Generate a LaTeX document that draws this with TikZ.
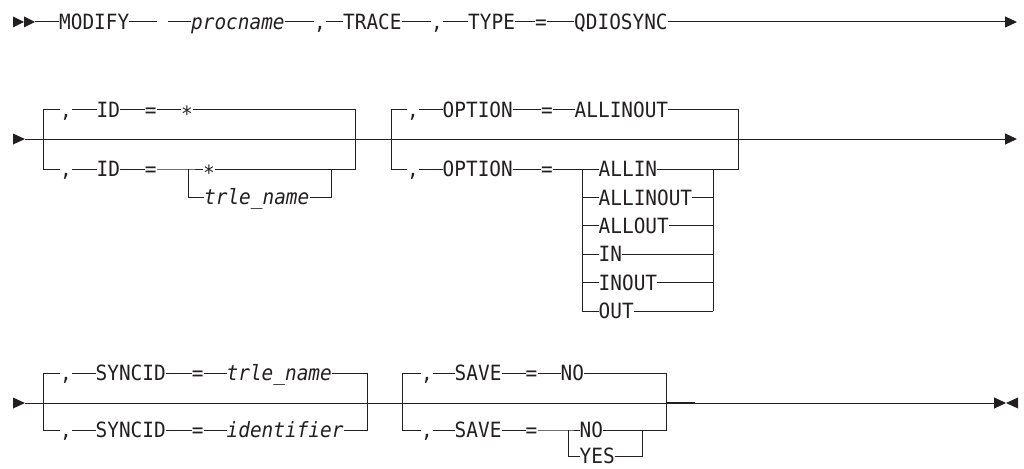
\documentclass[tikz,border=0pt]{standalone}
\usepackage{fontspec}
\usetikzlibrary{arrows.meta}
\newfontfamily\monofam[FakeStretch=0.924]{DejaVu Sans Mono}
\definecolor{ink}{RGB}{35,31,32}
\begin{document}
\begin{tikzpicture}[x=1pt,y=-1pt,
  lbl/.style={inner sep=0pt, anchor=west, text height=15.2pt, text depth=0pt,
    font=\monofam\fontsize{21pt}{22pt}\selectfont, text=ink},
  var/.style={lbl, font=\monofam\itshape\fontsize{21pt}{22pt}\selectfont},
  rail/.style={draw=ink, line width=1pt},
  endtip/.style={-{Triangle[length=12pt,width=11pt]}},
  heavy/.style={draw=ink, line width=2.2pt}]
\useasboundingbox (0,0) rectangle (1024,468);

% ---------------- Row 1 ----------------
\fill[ink] (13,16.5) -- (24,22) -- (13,27.5) -- cycle;
\fill[ink] (24,16.5) -- (35,22) -- (24,27.5) -- cycle;
\coordinate (r1s) at (35,22);
\coordinate (r1a) at (157,22);
\coordinate (r1b) at (168,22);
\coordinate (r1e) at (1017,22);
\node[lbl] (modify) at (59,22) {MODIFY};
\node[var] (procname) at (191,22) {procname};
\node[lbl] (c1) at (314,22) {,};
\node[lbl] (trace) at (343,22) {TRACE};
\node[lbl] (c2) at (431,22) {,};
\node[lbl] (type) at (468,22) {TYPE};
\node[lbl] (eq1) at (535,22) {=};
\node[lbl] (qdio) at (574,22) {QDIOSYNC};
\draw[rail] (r1s) -- (modify.west);
\draw[rail] (modify.east) -- (r1a);
\draw[rail] (r1b) -- (procname.west);
\draw[rail] (procname.east) -- (c1.west);
\draw[rail] (c1.east) -- (trace.west);
\draw[rail] (trace.east) -- (c2.west);
\draw[rail] (c2.east) -- (type.west);
\draw[rail] (type.east) -- (eq1.west);
\draw[rail] (eq1.east) -- (qdio.west);
\draw[rail,endtip] (qdio.east) -- (r1e);

% ---------------- Row 2 ----------------
\fill[ink] (13,133.5) -- (25,139) -- (13,144.5) -- cycle;
\coordinate (r2s) at (25,139);
\coordinate (r2e) at (1017,139);
\draw[rail,endtip] (r2s) -- (r2e);

% group ID
\coordinate (g1tl) at (43,110);
\coordinate (g1bl) at (43,169);
\coordinate (g1tr) at (355,110);
\coordinate (g1br) at (355,169);
\coordinate (g1il) at (188,169);
\coordinate (g1ilb) at (188,197);
\coordinate (g1ir) at (331,169);
\coordinate (g1irb) at (331,197);
\node[lbl] (g1ca) at (60,110) {,};
\node[lbl] (g1ida) at (96.5,110) {ID};
\node[lbl] (g1eqa) at (144.7,110) {=};
\node[lbl] (g1sta) at (181,110) {\raisebox{-3.5pt}{*}};
\node[lbl] (g1cb) at (60,169) {,};
\node[lbl] (g1idb) at (96.5,169) {ID};
\node[lbl] (g1eqb) at (144.7,169) {=};
\node[lbl] (g1stb) at (203,169) {\raisebox{-3.5pt}{*}};
\node[var] (g1tn) at (204,197) {trle\_name};
\draw[rail] (g1ca.west) -- (g1tl) -- (g1bl) -- (g1cb.west);
\draw[rail] (g1ca.east) -- (g1ida.west);
\draw[rail] (g1ida.east) -- (g1eqa.west);
\draw[rail] (g1eqa.east) -- (g1sta.west);
\draw[rail] (g1sta.east) -- (g1tr) -- (g1br) -- (g1ir);
\draw[rail] (g1cb.east) -- (g1idb.west);
\draw[rail] (g1idb.east) -- (g1eqb.west);
\draw[rail] (g1eqb.east) -- (g1il) -- (g1stb.west);
\draw[rail] (g1il) -- (g1ilb) -- (g1tn.west);
\draw[rail] (g1stb.east) -- (g1ir) -- (g1irb) -- (g1tn.east);

% group OPTION
\coordinate (g2tl) at (391,110);
\coordinate (g2bl) at (391,169);
\coordinate (g2tr) at (738,110);
\coordinate (g2br) at (738,169);
\coordinate (g2il) at (582,169);
\coordinate (g2ir) at (713,169);
\node[lbl] (g2ca) at (407,110) {,};
\node[lbl] (g2opa) at (442.5,110) {OPTION};
\node[lbl] (g2eqa) at (541,110) {=};
\node[lbl] (g2def) at (574.5,110) {ALLINOUT};
\node[lbl] (g2cb) at (407,169) {,};
\node[lbl] (g2opb) at (442.5,169) {OPTION};
\node[lbl] (g2eqb) at (541,169) {=};
\draw[rail] (g2ca.west) -- (g2tl) -- (g2bl) -- (g2cb.west);
\draw[rail] (g2ca.east) -- (g2opa.west);
\draw[rail] (g2opa.east) -- (g2eqa.west);
\draw[rail] (g2eqa.east) -- (g2def.west);
\draw[rail] (g2def.east) -- (g2tr) -- (g2br) -- (g2ir);
\draw[rail] (g2cb.east) -- (g2opb.west);
\draw[rail] (g2opb.east) -- (g2eqb.west);
\draw[rail] (g2eqb.east) -- (g2il);
\foreach \name/\txt/\yy in {o1/ALLIN/169, o2/ALLINOUT/197.4, o3/ALLOUT/225.8, o4/IN/254.2, o5/INOUT/282.6, o6/OUT/311}{
  \node[lbl] (\name) at (598.5,\yy) {\txt};
  \coordinate (\name l) at (582,\yy);
  \coordinate (\name r) at (713,\yy);
  \draw[rail] (\name l) -- (\name.west);
  \draw[rail] (\name.east) -- (\name r);
}
\draw[rail] (o1l) -- (o6l);
\draw[rail] (o1r) -- (o6r);

% ---------------- Row 3 ----------------
\fill[ink] (13,397.5) -- (25,403) -- (13,408.5) -- cycle;
\coordinate (r3s) at (25,403);
\coordinate (r3e) at (1006,403);
\coordinate (hs) at (666,403);
\coordinate (he) at (695,403);
\draw[rail,endtip] (r3s) -- (r3e);
\draw[heavy] (hs) -- (he);
\fill[ink] (1018,397.5) -- (1006,403) -- (1018,408.5) -- cycle;

% group SYNCID
\coordinate (g3tl) at (43,373);
\coordinate (g3bl) at (43,430);
\coordinate (g3tr) at (367,373);
\coordinate (g3br) at (367,430);
\node[lbl] (g3ca) at (60,373) {,};
\node[lbl] (g3sya) at (95.5,373) {SYNCID};
\node[lbl] (g3eqa) at (191.7,373) {=};
\node[var] (g3tn) at (226.5,373) {trle\_name};
\node[lbl] (g3cb) at (60,430) {,};
\node[lbl] (g3syb) at (95.5,430) {SYNCID};
\node[lbl] (g3eqb) at (191.7,430) {=};
\node[var] (g3idf) at (226.5,430) {identifier};
\draw[rail] (g3ca.west) -- (g3tl) -- (g3bl) -- (g3cb.west);
\draw[rail] (g3ca.east) -- (g3sya.west);
\draw[rail] (g3sya.east) -- (g3eqa.west);
\draw[rail] (g3eqa.east) -- (g3tn.west);
\draw[rail] (g3tn.east) -- (g3tr) -- (g3br) -- (g3idf.east);
\draw[rail] (g3cb.east) -- (g3syb.west);
\draw[rail] (g3syb.east) -- (g3eqb.west);
\draw[rail] (g3eqb.east) -- (g3idf.west);

% group SAVE
\coordinate (g4tl) at (402,373);
\coordinate (g4bl) at (402,430);
\coordinate (g4tr) at (666,373);
\coordinate (g4br) at (666,430);
\coordinate (g4il) at (568,430);
\coordinate (g4ilb) at (568,456);
\coordinate (g4ir) at (642,430);
\coordinate (g4irb) at (642,456);
\node[lbl] (g4ca) at (421,373) {,};
\node[lbl] (g4sva) at (454.5,373) {SAVE};
\node[lbl] (g4eqa) at (525.5,373) {=};
\node[lbl] (g4noa) at (560.5,373) {NO};
\node[lbl] (g4cb) at (421,430) {,};
\node[lbl] (g4svb) at (454.5,430) {SAVE};
\node[lbl] (g4eqb) at (525.5,430) {=};
\node[lbl] (g4nob) at (579.5,430) {NO};
\node[lbl] (g4yes) at (579.5,456) {YES};
\draw[rail] (g4ca.west) -- (g4tl) -- (g4bl) -- (g4cb.west);
\draw[rail] (g4ca.east) -- (g4sva.west);
\draw[rail] (g4sva.east) -- (g4eqa.west);
\draw[rail] (g4eqa.east) -- (g4noa.west);
\draw[rail] (g4noa.east) -- (g4tr) -- (g4br) -- (g4ir);
\draw[rail] (g4cb.east) -- (g4svb.west);
\draw[rail] (g4svb.east) -- (g4eqb.west);
\draw[rail] (g4eqb.east) -- (g4il) -- (g4nob.west);
\draw[rail] (g4il) -- (g4ilb) -- (g4yes.west);
\draw[rail] (g4nob.east) -- (g4ir) -- (g4irb) -- (g4yes.east);
\end{tikzpicture}
\end{document}
